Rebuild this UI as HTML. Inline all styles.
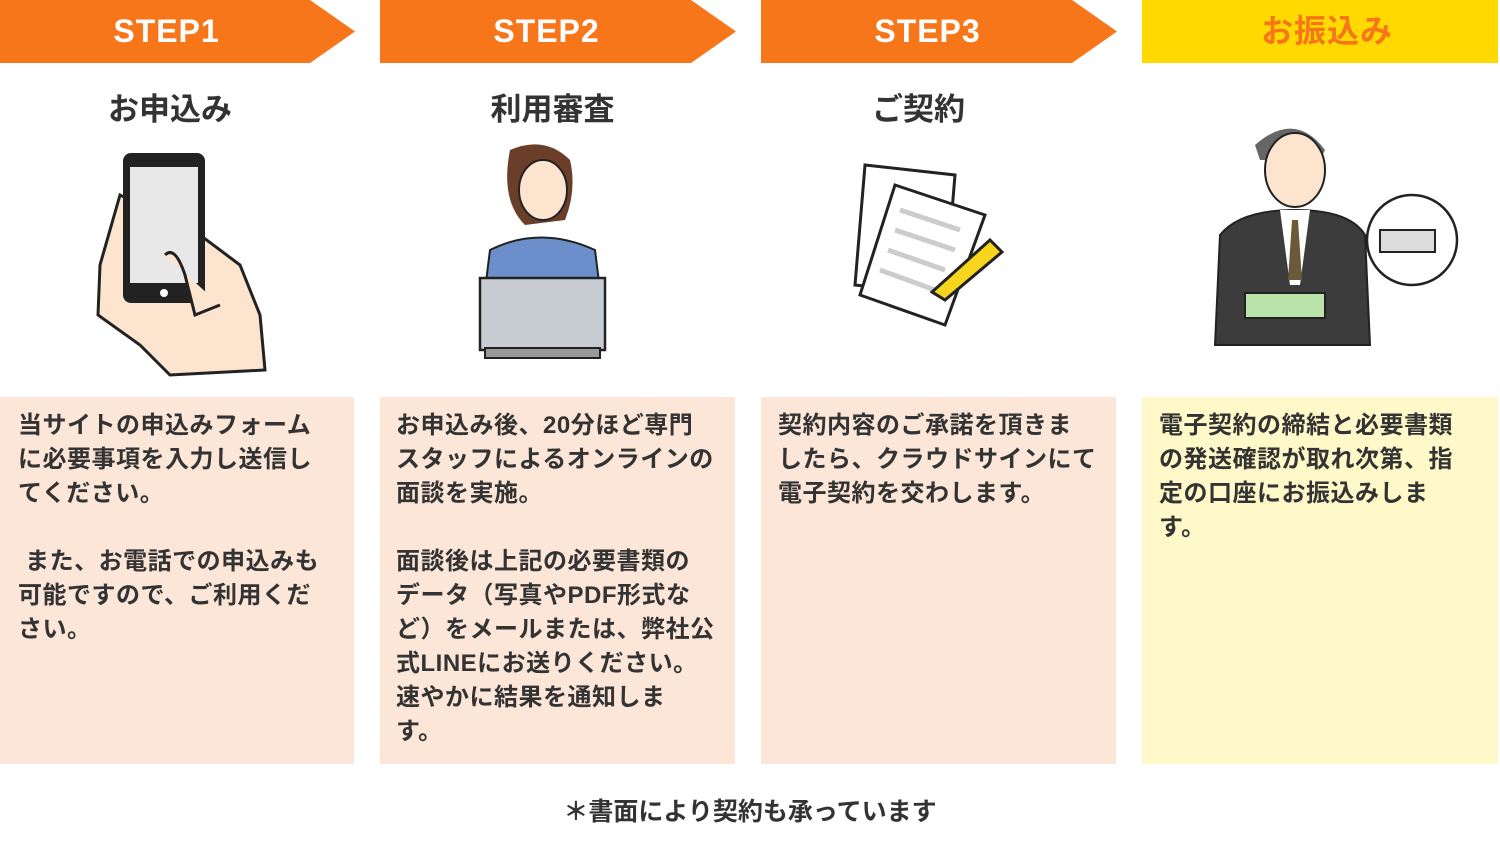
<!DOCTYPE html>
<html><head><meta charset="utf-8"><style>
*{margin:0;padding:0;box-sizing:border-box}
body{width:1500px;height:842px;background:#fff;position:relative;overflow:hidden;font-family:"Liberation Sans","Noto Sans CJK JP",sans-serif;color:#333}
.hd{position:absolute;top:0;height:63px;color:#fff;font-weight:bold;font-size:32px;text-align:center;line-height:63px;letter-spacing:1px}
.tt{position:absolute;top:84px;font-size:31px;font-weight:bold;text-align:center;color:#333}
.bx{position:absolute;top:397px;height:367px;background:#FBE6D7;padding:12px 0 10px 18px;font-size:24px;font-weight:bold;line-height:34px;color:#333;white-space:nowrap;letter-spacing:0.5px}
svg{position:absolute}
</style></head><body>
<svg style="left:0;top:0" width="1500" height="63">
<polygon points="0,0 310,0 355,31.5 310,63 0,63" fill="#F8761A"/>
<polygon points="380,0 691,0 736,31.5 691,63 380,63" fill="#F8761A"/>
<polygon points="761,0 1072,0 1117,31.5 1072,63 761,63" fill="#F8761A"/>
<rect x="1142" y="0" width="356" height="63" fill="#FFD900"/>
</svg>
<div class="hd" style="left:0;width:333px">STEP1</div>
<div class="hd" style="left:380px;width:333px">STEP2</div>
<div class="hd" style="left:761px;width:333px">STEP3</div>
<div class="hd" style="left:1142px;width:370px;color:#F8761A">お振込み</div>
<div class="tt" style="left:0;width:340px">お申込み</div>
<div class="tt" style="left:380px;width:345px">利用審査</div>
<div class="tt" style="left:761px;width:315px">ご契約</div>

<svg style="left:90px;top:145px" width="180" height="240">
<path d="M30 50 L10 120 L8 170 L50 200 L80 230 L175 225 L170 170 L150 120 L110 90 Z" fill="#FCE4CF" stroke="#222" stroke-width="3"/>
<rect x="33" y="8" width="82" height="150" rx="8" fill="#222"/>
<rect x="40" y="22" width="68" height="116" fill="#E8E8E8"/>
<circle cx="74" cy="148" r="4" fill="#fff"/>
<path d="M75 110 Q85 100 95 130 L105 170 L130 160" fill="#FCE4CF" stroke="#222" stroke-width="3"/>
</svg>

<svg style="left:465px;top:140px" width="160" height="225">
<path d="M45 10 Q80 -5 105 20 Q112 50 100 80 L60 85 Q35 60 45 10Z" fill="#6B3E2A"/>
<ellipse cx="78" cy="50" rx="24" ry="30" fill="#FCE4CF" stroke="#222" stroke-width="2"/>
<path d="M25 110 Q75 85 130 110 L135 150 L20 150Z" fill="#6C8FCB" stroke="#222" stroke-width="2"/>
<rect x="15" y="138" width="125" height="72" fill="#C6CCD2" stroke="#222" stroke-width="2.5"/>
<rect x="20" y="208" width="115" height="10" fill="#999" stroke="#222" stroke-width="2"/>
</svg>

<svg style="left:850px;top:160px" width="160" height="175">
<polygon points="15,5 105,15 95,135 5,125" fill="#fff" stroke="#222" stroke-width="3"/>
<polygon points="45,25 135,55 95,165 10,135" fill="#fff" stroke="#222" stroke-width="3"/>
<g stroke="#ccc" stroke-width="5"><line x1="50" y1="50" x2="110" y2="70"/><line x1="45" y1="70" x2="105" y2="90"/><line x1="38" y1="90" x2="95" y2="110"/><line x1="30" y1="110" x2="85" y2="130"/></g>
<polygon points="140,80 152,92 95,140 82,132" fill="#F7D41E" stroke="#222" stroke-width="3"/>
</svg>

<svg style="left:1200px;top:115px" width="260" height="235">
<path d="M55 30 Q95 -5 125 35 L120 45 L60 45Z" fill="#666"/>
<ellipse cx="95" cy="55" rx="30" ry="37" fill="#FCE4CF" stroke="#222" stroke-width="2"/>
<path d="M15 230 L20 120 Q40 95 95 95 Q150 95 165 120 L170 230Z" fill="#3C3C3C" stroke="#222" stroke-width="2"/>
<polygon points="80,95 110,95 100,170 90,170" fill="#fff"/>
<polygon points="92,105 98,105 102,165 88,165" fill="#6B5A3A"/>
<rect x="45" y="178" width="80" height="25" fill="#B9E3A8" stroke="#222" stroke-width="2"/>
<circle cx="212" cy="125" r="45" fill="#fff" stroke="#222" stroke-width="2.5"/>
<rect x="180" y="115" width="55" height="22" fill="#ddd" stroke="#222" stroke-width="2"/>
</svg>

<div class="bx" style="left:0;width:354px">当サイトの申込みフォーム<br>に必要事項を入力し送信し<br>てください。<br><br>&nbsp;また、お電話での申込みも<br>可能ですので、ご利用くだ<br>さい。</div>
<div class="bx" style="left:380px;width:355px;padding-left:16px">お申込み後、20分ほど専門<br>スタッフによるオンラインの<br>面談を実施。<br><br>面談後は上記の必要書類の<br>データ（写真やPDF形式な<br>ど）をメールまたは、弊社公<br>式LINEにお送りください。<br>速やかに結果を通知しま<br>す。</div>
<div class="bx" style="left:761px;width:355px;padding-left:17px">契約内容のご承諾を頂きま<br>したら、クラウドサインにて<br>電子契約を交わします。</div>
<div class="bx" style="left:1142px;width:356px;padding-left:17px;background:#FFF8C8">電子契約の締結と必要書類<br>の発送確認が取れ次第、指<br>定の口座にお振込みしま<br>す。</div>
<div style="position:absolute;left:0;width:1500px;top:792px;text-align:center;font-size:25px;font-weight:bold">＊書面により契約も承っています</div>
</body></html>
